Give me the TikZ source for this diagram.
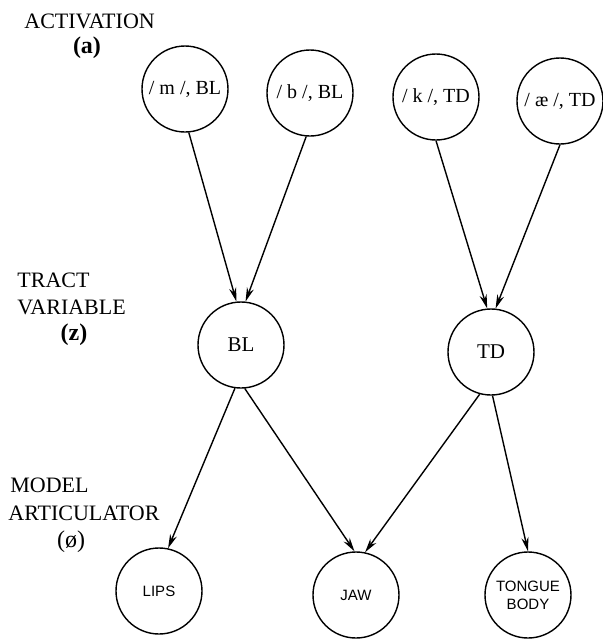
\documentclass[tikz,border=0pt]{standalone}
\usepackage{fontspec}
\setmainfont{Liberation Serif}
\setsansfont{Liberation Sans}
\usetikzlibrary{arrows.meta}
\def\thickness{0.7pt}
\tikzset{unit/.style={circle, draw, line width=\thickness, minimum size=43pt, inner sep=0pt, font=\fontsize{10}{12}\selectfont}}
\tikzset{art/.style={unit, align=center, font=\sffamily\fontsize{7.5}{9}\selectfont}}
\tikzset{level/.style={inner sep=0pt, font=\fontsize{11}{13}\selectfont}}
\tikzset{link/.style={line width=\thickness, -{Stealth[length=7pt, width=3.6pt]}}}

\begin{document}
\begin{tikzpicture}[x=0.5pt, y=-0.5pt]

\useasboundingbox (0, 0) rectangle (602, 639);

% level labels
\node [level, anchor=west] (la) at (24, 21) {ACTIVATION};
\node [level, font=\fontsize{12}{14}\selectfont\bfseries] (la2) at (87, 48) {(a)};
\node [level, anchor=west] (lz) at (17, 280) {TRACT};
\node [level, anchor=west] (lz1) at (17, 307) {VARIABLE};
\node [level, font=\fontsize{12}{14}\selectfont\bfseries] (lz2) at (74, 335) {(z)};
\node [level, anchor=west] (lp) at (10, 485) {MODEL};
\node [level, anchor=west] (lp1) at (8, 513) {ARTICULATOR};
\node [level, font=\fontsize{12}{14}\selectfont] (lp2) at (71, 542) {(ø)};

% activation
\node [unit] (a1) at (185, 89) {/ m /, BL};
\node [unit] (a2) at (310, 93) {/ b /, BL};
\node [unit] (a3) at (436, 97) {/ k /, TD};
\node [unit] (a4) at (560, 101) {/ æ /, TD};

% tract variables
\node [unit, font=\fontsize{10.5}{12}\selectfont] (z1) at (241, 345) {BL};
\node [unit, font=\fontsize{10.5}{12}\selectfont] (z2) at (491, 352) {TD};

% articulators
\node [art] (p1) at (159, 591) {LIPS};
\node [art] (p2) at (356, 595) {JAW};
\node [art] (p3) at (528, 595) {TONGUE\\BODY};

\draw [link] (a1.275) to (z1.96);
\draw [link] (a2.265) to (z1.84);
\draw [link] (a3.270) to (z2.95);
\draw [link] (a4.270) to (z2.84);

\draw [link] (z1.262) to (p1.78);
\draw [link] (z1.275) to (p2.92);
\draw [link] (z2.255) to (p2.78);
\draw [link] (z2.272) to (p3.90);

\end{tikzpicture}
\end{document}
